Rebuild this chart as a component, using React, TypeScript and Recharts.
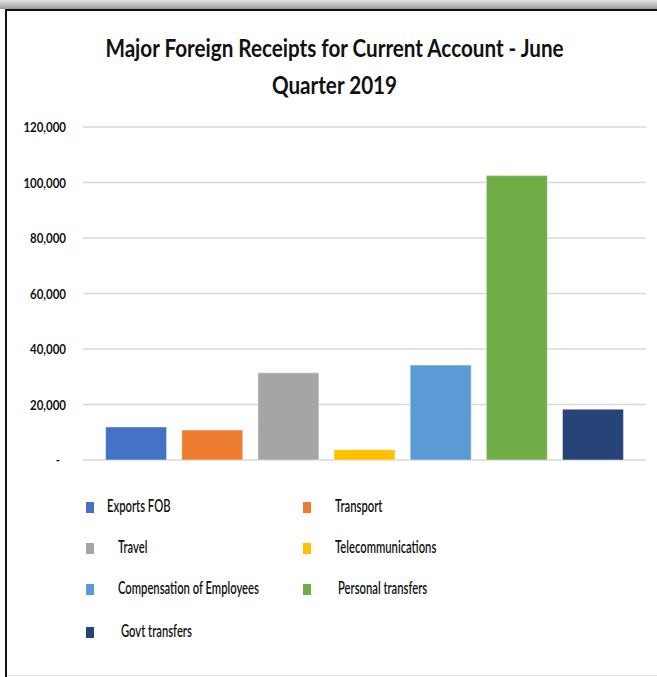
import React from 'react';
import { BarChart, Bar, Cell, XAxis, YAxis, CartesianGrid } from 'recharts';

const categories = [
  'Exports FOB',
  'Transport',
  'Travel',
  'Telecommunications',
  'Compensation of Employees',
  'Personal transfers',
  'Govt transfers',
];
const receipts = [11900, 10800, 31400, 3700, 34200, 102500, 18300];
const barColors = ['#4472C4', '#ED7D31', '#A5A5A5', '#FFC000', '#5B9BD5', '#70AD47', '#264478'];
const yTicks = [0, 20000, 40000, 60000, 80000, 100000, 120000];

const chartData = categories.map((name, i) => ({ name, value: receipts[i] }));

const FONT = 'Lato, "Open Sans", sans-serif';

// legend is laid out in two columns like the Excel original
const legendCols = [86, 303];
const legendRows = [507, 548, 589, 632];
const legendIndent = [21, 32, 32, 35];

const formatTick = (v: number) => (v === 0 ? '-' : v.toLocaleString('en-US'));

// narrow bold tick text, like Calibri in the source
const YTick = (props: any) => {
  const { x, y, payload } = props;
  const isZero = payload.value === 0;
  return (
    <text
      x={0}
      y={0}
      textAnchor="end"
      dominantBaseline="central"
      fontSize={14}
      fontWeight="bold"
      fontFamily={FONT}
      fill="#111"
      transform={`translate(${isZero ? x - 6 : x}, ${y}) scale(0.82, 1)`}
    >
      {formatTick(payload.value)}
    </text>
  );
};

export default function App() {
  return (
    <div
      style={{
        position: 'absolute',
        left: 0,
        top: 0,
        width: 657,
        height: 677,
        background: '#fff',
        overflow: 'hidden',
        fontFamily: FONT,
      }}
    >
      {/* top shadow + frame */}
      <div
        style={{
          position: 'absolute',
          left: 0,
          top: 0,
          width: 657,
          height: 9,
          background: 'linear-gradient(#e6e6e6, #9a9a9a)',
        }}
      />
      <div style={{ position: 'absolute', left: 5, top: 9, width: 652, height: 2, background: '#111' }} />
      <div style={{ position: 'absolute', left: 5, top: 9, width: 2, height: 668, background: '#111' }} />
      <div style={{ position: 'absolute', left: 7, top: 675, width: 650, height: 1, background: '#e4e4e4' }} />

      <div
        style={{
          position: 'absolute',
          left: 0,
          top: 29,
          width: 669,
          textAlign: 'center',
          fontSize: 24,
          fontWeight: 'bold',
          lineHeight: '37px',
          color: '#111',
          transform: 'scaleX(0.86)',
          transformOrigin: '334.5px 0',
        }}
      >
        Major Foreign Receipts for Current Account - June
        <br />
        Quarter 2019
      </div>

      <div style={{ position: 'absolute', left: 0, top: 0 }}>
        <BarChart
          width={657}
          height={677}
          data={chartData}
          margin={{ top: 127, right: 11, bottom: 217, left: 13 }}
          barCategoryGap="10%"
        >
          <CartesianGrid vertical={false} stroke="#d9d9d9" strokeWidth={1.5} />
          <XAxis dataKey="name" hide padding={{ left: 15, right: 15 }} />
          <YAxis
            width={70}
            domain={[0, 120000]}
            ticks={yTicks}
            axisLine={false}
            tickLine={false}
            tickSize={0}
            tickMargin={17}
            tick={<YTick />}
          />
          <Bar dataKey="value" isAnimationActive={false} stroke="#ffffff" strokeOpacity={0.45} strokeWidth={1}>
            {chartData.map((d, i) => (
              <Cell key={d.name} fill={barColors[i]} />
            ))}
          </Bar>
        </BarChart>
      </div>

      {categories.map((name, i) => {
        const col = i % 2;
        const row = Math.floor(i / 2);
        const x = legendCols[col];
        const y = legendRows[row];
        const indent = col === 0 ? legendIndent[row] : row === 2 ? 35 : 32;
        return (
          <div key={name}>
            <div
              style={{
                position: 'absolute',
                left: x,
                top: y - 5,
                width: 8,
                height: 11,
                background: barColors[i],
              }}
            />
            <div
              style={{
                position: 'absolute',
                left: x + indent,
                top: y - 12,
                fontSize: 17,
                fontWeight: 600,
                lineHeight: '22px',
                color: '#111',
                whiteSpace: 'nowrap',
                transform: 'scaleX(0.66)',
                transformOrigin: '0 0',
              }}
            >
              {name}
            </div>
          </div>
        );
      })}
    </div>
  );
}
